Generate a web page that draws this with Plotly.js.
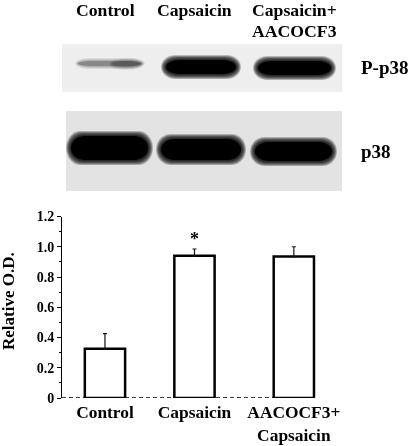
<!DOCTYPE html>
<html>
<head>
<meta charset="utf-8">
<script src="https://cdn.plot.ly/plotly-3.0.1.min.js"></script>
<style>
  html, body { margin: 0; padding: 0; background: #fff; }
  #chart { width: 410px; height: 446px; filter: blur(0.35px); }
</style>
</head>
<body>
<div id="chart"></div>
<script>
// bar chart values
var groups = ["Control", "Capsaicin", "AACOCF3+<br>Capsaicin"];
var groupPos = [1, 2, 3.11];
var relativeOD = [0.325, 0.94, 0.935];
var errUp = [0.1, 0.045, 0.065];
var yTicks = [0, 0.2, 0.4, 0.6, 0.8, 1.0, 1.2];
var yTickText = ["0", "0.2", "0.4", "0.6", "0.8", "1.0", "1.2"];

// blot lane labels
var laneLabels = ["Control", "Capsaicin", "Capsaicin+", "AACOCF3"];
var rowLabels = ["P-p38", "p38"];

var W = 410, H = 446;
var FONT = "Liberation Serif, Times New Roman, serif";

function fx(px) { return px / W; }
function fy(py) { return 1 - py / H; }

// rounded band outline in paper coords
function bandPath(l, r, t, b) {
  var rx = Math.min(14, (r - l) / 2), ry = (b - t) / 2, k = 0.55;
  var X = fx, Y = fy;
  return "M" + X(l + rx) + "," + Y(t) +
    " L" + X(r - rx) + "," + Y(t) +
    " C" + X(r - rx + rx * k) + "," + Y(t) + " " + X(r) + "," + Y(t + ry - ry * k) + " " + X(r) + "," + Y(t + ry) +
    " C" + X(r) + "," + Y(b - ry + ry * k) + " " + X(r - rx + rx * k) + "," + Y(b) + " " + X(r - rx) + "," + Y(b) +
    " L" + X(l + rx) + "," + Y(b) +
    " C" + X(l + rx - rx * k) + "," + Y(b) + " " + X(l) + "," + Y(b - ry + ry * k) + " " + X(l) + "," + Y(t + ry) +
    " C" + X(l) + "," + Y(t + ry - ry * k) + " " + X(l + rx - rx * k) + "," + Y(t) + " " + X(l + rx) + "," + Y(t) + " Z";
}

var shapes = [];

function blotPanel(l, r, t, b, col) {
  shapes.push({
    type: "rect", xref: "paper", yref: "paper", layer: "below",
    x0: fx(l), x1: fx(r), y0: fy(b), y1: fy(t),
    fillcolor: col, line: {width: 0}
  });
}

// stacked translucent outlines fake the soft edge of a film band
function blotBand(l, r, t, b, dark, spread) {
  var steps = 9;
  for (var i = 0; i < steps; i++) {
    var d = spread - i * spread / (steps - 1);
    shapes.push({
      type: "path", xref: "paper", yref: "paper", layer: "below",
      path: bandPath(l - d, r + d, t - d, b + d),
      fillcolor: "#000", opacity: i == steps - 1 ? dark : dark * 0.2,
      line: {width: 0}
    });
  }
}

blotPanel(62, 342, 44, 92, "#eeeeee");
blotPanel(66, 342, 111, 191, "#e3e3e3");

blotBand(78, 142, 61, 66, 0.2, 3);
blotBand(112, 140, 61, 67, 0.13, 3);
blotBand(166, 236, 60, 74, 1, 5);
blotBand(258, 331, 61, 75, 1, 5);
blotBand(71, 148, 136, 160, 1, 5);
blotBand(161, 241, 139, 160, 1, 5);
blotBand(255, 332, 142, 161, 1, 5);

var annotations = [];

function label(text, px, py, size, extra) {
  var a = {
    text: text, xref: "paper", yref: "paper",
    x: fx(px), y: fy(py), xanchor: "center", yanchor: "middle",
    showarrow: false, align: "center",
    font: {family: FONT, size: size, color: "#000"}
  };
  for (var k in extra) a[k] = extra[k];
  annotations.push(a);
}

label("<b>" + laneLabels[0] + "</b>", 105, 9.5, 17.7);
label("<b>" + laneLabels[1] + "</b>", 194, 9.5, 17.7);
label("<b>" + laneLabels[2] + "</b>", 294, 9.5, 17.7);
label("<b>" + laneLabels[3] + "</b>", 294, 30.5, 17.7);
label("<b>" + rowLabels[0] + "</b>", 385, 67, 19);
label("<b>" + rowLabels[1] + "</b>", 376, 151, 19);
label("<b>Relative O.D.</b>", 8, 301, 17, {textangle: -90});
annotations.push({
  text: "<b>*</b>", x: groupPos[1], y: 0.975, xref: "x", yref: "y",
  xanchor: "center", yanchor: "bottom", showarrow: false,
  font: {family: FONT, size: 18, color: "#000"}
});

var baseline = {
  x: [0.52, 3.335], y: [0, 0], mode: "lines", type: "scatter",
  line: {color: "#000", width: 1.5, dash: "4px,3px"},
  hoverinfo: "skip", cliponaxis: false
};

var bars = {
  x: groupPos, y: relativeOD, type: "bar", width: 0.45,
  marker: {color: "#fff", line: {color: "#000", width: 2.5}},
  error_y: {
    type: "data", symmetric: false, array: errUp, arrayminus: [0, 0, 0],
    color: "#111", thickness: 1.2, width: 2
  },
  cliponaxis: false
};

var layout = {
  width: W, height: H,
  margin: {l: 0, r: 0, t: 0, b: 0},
  paper_bgcolor: "#fff", plot_bgcolor: "rgba(0,0,0,0)",
  showlegend: false,
  xaxis: {
    domain: [fx(62), fx(330)],
    range: [0.52, 3.514],
    tickmode: "array", tickvals: groupPos, ticktext: groups.map(function(g) { return "<b>" + g + "</b>"; }),
    tickfont: {family: FONT, size: 17.4, color: "#000"},
    ticklabelstandoff: 2,
    ticks: "", showgrid: false, zeroline: false, showline: false
  },
  yaxis: {
    domain: [fy(398), fy(216.5)],
    range: [0, 1.2],
    tickmode: "array", tickvals: yTicks, ticktext: yTickText.map(function(t) { return "<b>" + t + "</b>"; }),
    tickfont: {family: FONT, size: 14, color: "#000"},
    ticks: "outside", ticklen: 4, tickwidth: 1, tickcolor: "#000",
    minor: {dtick: 0.1, ticks: "outside", ticklen: 2, tickwidth: 1, tickcolor: "#000", showgrid: false},
    showgrid: false, zeroline: false, showline: true, linecolor: "#000", linewidth: 1
  },
  shapes: shapes,
  annotations: annotations
};

Plotly.newPlot("chart", [baseline, bars], layout, {displayModeBar: false, responsive: false});
</script>
</body>
</html>
